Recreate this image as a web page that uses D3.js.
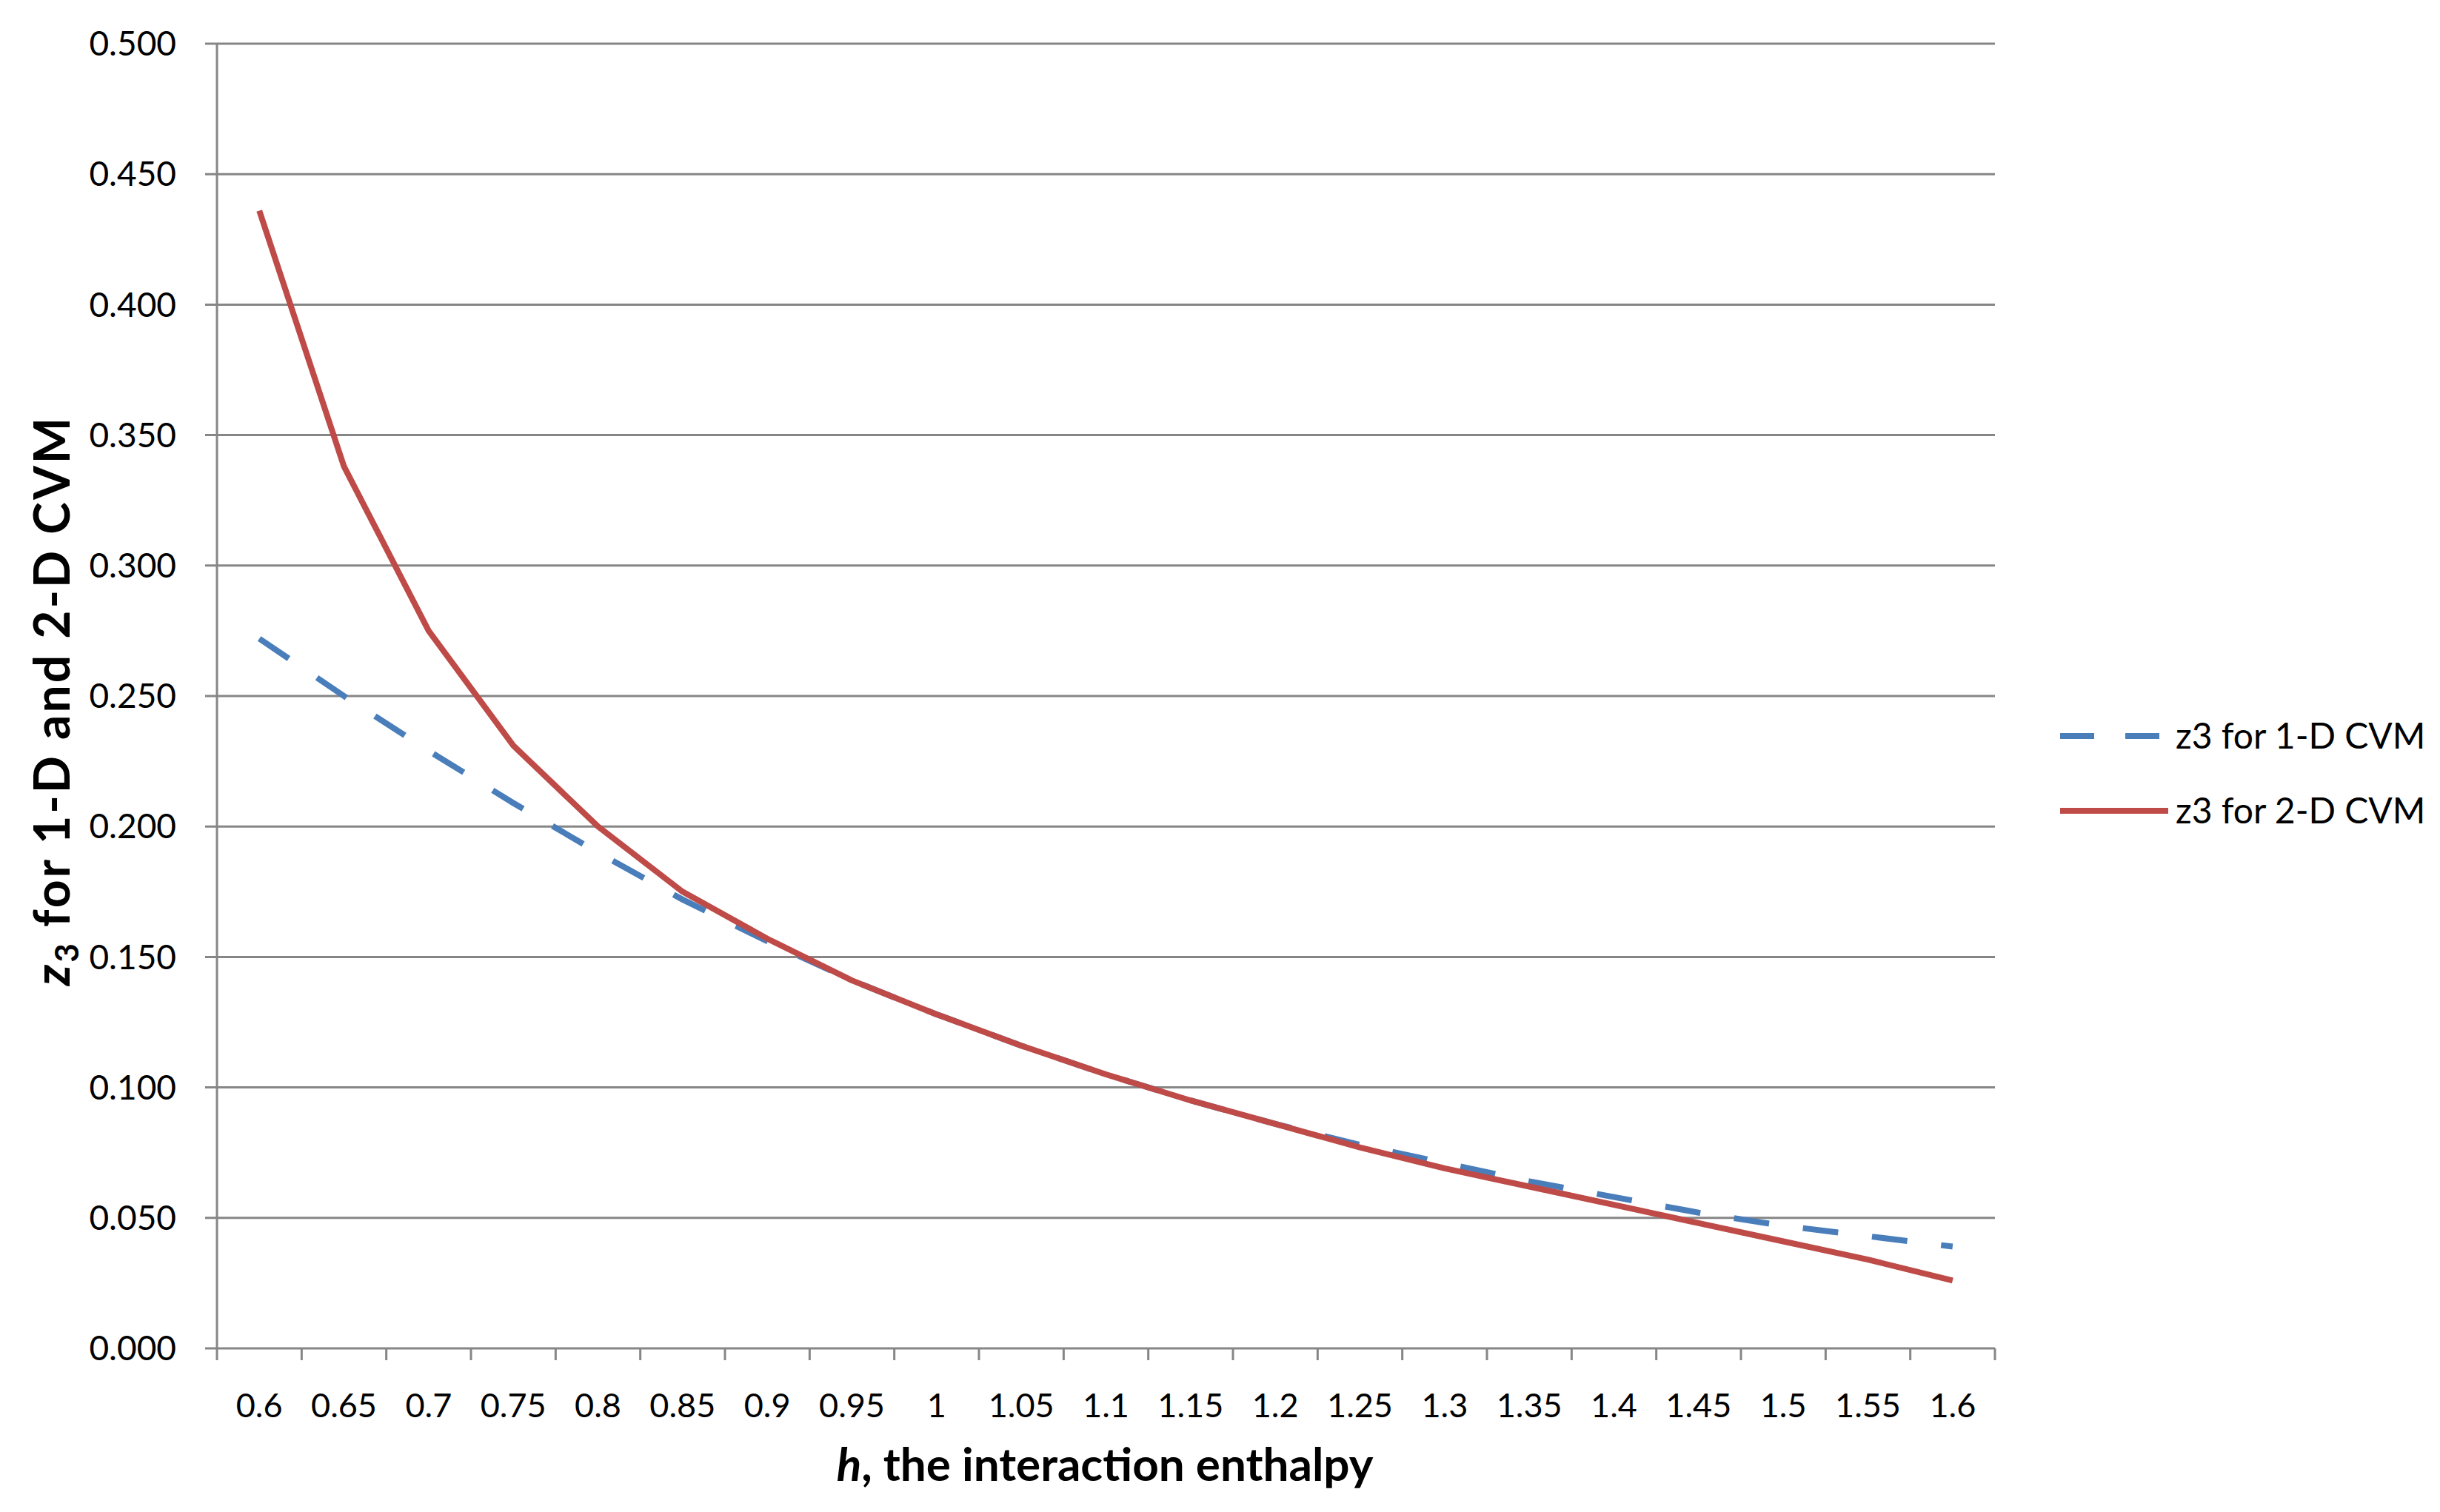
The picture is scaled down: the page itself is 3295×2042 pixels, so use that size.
<!DOCTYPE html>
<html>
<head>
<meta charset="utf-8">
<script src="https://cdn.jsdelivr.net/npm/d3@7"></script>
<style>
  html, body { margin: 0; padding: 0; background: #fff; }
  svg { display: block; }
  text { font-family: Lato, "Open Sans", "Liberation Sans", sans-serif; fill: #000; }
</style>
</head>
<body>
<svg id="chart" width="3295" height="2042"></svg>
<script>
// ---- data ----
const categories = ["0.6","0.65","0.7","0.75","0.8","0.85","0.9","0.95","1","1.05","1.1","1.15","1.2","1.25","1.3","1.35","1.4","1.45","1.5","1.55","1.6"];
const series1D = [0.272,0.250,0.229,0.209,0.190,0.172,0.156,0.141,0.128,0.116,0.105,0.095,0.086,0.078,0.071,0.064,0.058,0.052,0.047,0.043,0.039];
const series2D = [0.436,0.338,0.275,0.231,0.200,0.175,0.157,0.141,0.128,0.116,0.105,0.095,0.086,0.077,0.069,0.062,0.055,0.048,0.041,0.034,0.026];
const yTicks = [0,0.05,0.1,0.15,0.2,0.25,0.3,0.35,0.4,0.45,0.5];
const seriesNames = ["z3 for 1-D CVM","z3 for 2-D CVM"];
const xTitle = ", the interaction enthalpy";

(function () {
// ---- layout ----
const svg = d3.select("#chart");
const pLeft = 293, pRight = 2694, pTop = 59, pBottom = 1821;
const gridColor = "#868686";
const blue = "#4A7EBB", red = "#BE4B48";

const x = d3.scaleBand().domain(categories).range([pLeft, pRight]).paddingInner(0).paddingOuter(0);
const y = d3.scaleLinear().domain([0, 0.5]).range([pBottom, pTop]);

// gridlines
svg.append("g").selectAll("line").data(yTicks).join("line")
  .attr("x1", pLeft - 16).attr("x2", pRight)
  .attr("y1", d => y(d)).attr("y2", d => y(d))
  .attr("stroke", gridColor).attr("stroke-width", 3);

// y axis line
svg.append("line").attr("x1", pLeft).attr("x2", pLeft).attr("y1", pTop).attr("y2", pBottom + 1)
  .attr("stroke", gridColor).attr("stroke-width", 3);

// y tick labels
svg.append("g").selectAll("text").data(yTicks).join("text")
  .attr("x", 238).attr("y", d => y(d)).attr("dy", "0.35em")
  .attr("text-anchor", "end").attr("font-size", 46)
  .text(d => d3.format(".3f")(d));

// x axis ticks at band boundaries
const boundaries = categories.map(c => x(c)).concat([x(categories[categories.length-1]) + x.bandwidth()]);
svg.append("g").selectAll("line").data(boundaries).join("line")
  .attr("x1", d => d).attr("x2", d => d).attr("y1", pBottom).attr("y2", pBottom + 16)
  .attr("stroke", gridColor).attr("stroke-width", 3);

// x tick labels
svg.append("g").selectAll("text").data(categories).join("text")
  .attr("x", d => x(d) + x.bandwidth()/2).attr("y", 1898).attr("dy", "0.35em")
  .attr("text-anchor", "middle").attr("font-size", 45)
  .text(d => d);

// lines
const line = d3.line().x((d, i) => x(categories[i]) + x.bandwidth()/2).y(d => y(d));
svg.append("path").datum(series1D).attr("d", line)
  .attr("fill", "none").attr("stroke", blue).attr("stroke-width", 8)
  .attr("stroke-dasharray", "48,46");
svg.append("path").datum(series2D).attr("d", line)
  .attr("fill", "none").attr("stroke", red).attr("stroke-width", 8)
  .attr("stroke-linejoin", "round");

// x axis title
const xt = svg.append("text").attr("x", 1492).attr("y", 2000)
  .attr("text-anchor", "middle").attr("font-size", 62).attr("font-weight", "bold");
xt.append("tspan").attr("font-style", "italic").text("h");
xt.append("tspan").text(xTitle);

// y axis title
const yt = svg.append("text").attr("transform", "translate(94,946) rotate(-90)")
  .attr("text-anchor", "middle").attr("font-size", 66).attr("font-weight", "bold")
  .attr("letter-spacing", 3);
yt.append("tspan").attr("font-style", "italic").text("z");
yt.append("tspan").attr("font-size", 44).attr("dy", 12).text("3");
yt.append("tspan").attr("dy", -12).text(" for 1-D and 2-D CVM");

// legend
const legY = [994, 1095];
const leg = svg.append("g");
leg.append("line").attr("x1", 2782).attr("x2", 2918).attr("y1", legY[0]).attr("y2", legY[0])
  .attr("stroke", blue).attr("stroke-width", 8).attr("stroke-dasharray", "46,42");
leg.append("line").attr("x1", 2782).attr("x2", 2928).attr("y1", legY[1]).attr("y2", legY[1])
  .attr("stroke", red).attr("stroke-width", 8);
leg.selectAll("text").data(seriesNames).join("text")
  .attr("x", 2938).attr("y", (d, i) => legY[i]).attr("dy", "0.35em")
  .attr("font-size", 48).text(d => d);
})();
</script>
</body>
</html>
